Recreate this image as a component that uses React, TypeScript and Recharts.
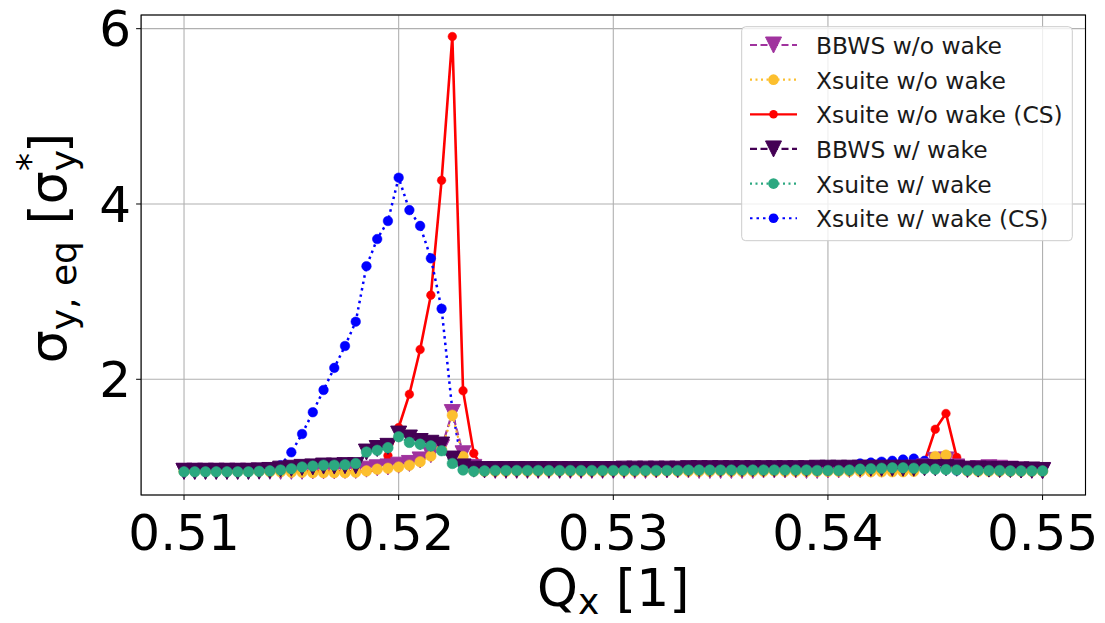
import React from "react";
import { LineChart, Line, XAxis, YAxis, CartesianGrid } from "recharts";

// ---- data ----
const qx = [
  0.51, 0.5105, 0.511, 0.5115, 0.512, 0.5125, 0.513, 0.5135, 0.514, 0.5145,
  0.515, 0.5155, 0.516, 0.5165, 0.517, 0.5175, 0.518, 0.5185, 0.519, 0.5195,
  0.52, 0.5205, 0.521, 0.5215, 0.522, 0.5225, 0.523, 0.5235, 0.524, 0.5245,
  0.525, 0.5255, 0.526, 0.5265, 0.527, 0.5275, 0.528, 0.5285, 0.529, 0.5295,
  0.53, 0.5305, 0.531, 0.5315, 0.532, 0.5325, 0.533, 0.5335, 0.534, 0.5345,
  0.535, 0.5355, 0.536, 0.5365, 0.537, 0.5375, 0.538, 0.5385, 0.539, 0.5395,
  0.54, 0.5405, 0.541, 0.5415, 0.542, 0.5425, 0.543, 0.5435, 0.544, 0.5445,
  0.545, 0.5455, 0.546, 0.5465, 0.547, 0.5475, 0.548, 0.5485, 0.549, 0.5495,
  0.55,
];

const bbwsNoWake = [
  0.95, 0.95, 0.95, 0.95, 0.95, 0.95, 0.95, 0.95, 0.95, 0.95,
  0.95, 0.95, 0.955, 0.955, 0.955, 0.96, 0.96, 0.975, 0.99, 1.0,
  1.02, 1.04, 1.08, 1.14, 1.22, 1.62, 1.15, 0.995, 0.965, 0.96,
  0.96, 0.96, 0.96, 0.96, 0.96, 0.96, 0.96, 0.96, 0.96, 0.96,
  0.96, 0.96, 0.96, 0.96, 0.965, 0.965, 0.965, 0.965, 0.96, 0.96,
  0.96, 0.96, 0.96, 0.96, 0.965, 0.965, 0.965, 0.965, 0.96, 0.96,
  0.965, 0.965, 0.97, 0.97, 0.975, 0.975, 0.98, 0.98, 0.985, 1.0,
  1.075, 1.08, 1.0, 0.97, 0.98, 0.99, 0.985, 0.975, 0.965, 0.96,
  0.955,
];

const xsNoWake = [
  0.95, 0.95, 0.95, 0.95, 0.95, 0.95, 0.95, 0.95, 0.945, 0.945,
  0.94, 0.94, 0.935, 0.935, 0.935, 0.935, 0.94, 0.955, 0.975, 0.985,
  1.0, 1.02, 1.06, 1.125, 1.2, 1.59, 1.12, 0.955, 0.95, 0.95,
  0.95, 0.955, 0.95, 0.95, 0.95, 0.955, 0.95, 0.95, 0.95, 0.95,
  0.955, 0.95, 0.95, 0.95, 0.95, 0.955, 0.95, 0.95, 0.95, 0.95,
  0.955, 0.95, 0.95, 0.95, 0.95, 0.955, 0.95, 0.95, 0.95, 0.95,
  0.95, 0.95, 0.95, 0.95, 0.945, 0.945, 0.945, 0.945, 0.95, 0.99,
  1.12, 1.135, 0.98, 0.955, 0.95, 0.95, 0.95, 0.95, 0.95, 0.95,
  0.95,
];

const xsNoWakeCS = [
  0.95, 0.95, 0.95, 0.95, 0.95, 0.95, 0.95, 0.95, 0.95, 0.95,
  0.95, 0.95, 0.95, 0.95, 0.95, 0.95, 0.95, 0.95, 0.97, 1.13,
  1.45, 1.83, 2.34, 2.96, 4.27, 5.91, 1.87, 1.155, 0.955, 0.955,
  0.955, 0.955, 0.955, 0.955, 0.955, 0.955, 0.955, 0.955, 0.955, 0.955,
  0.955, 0.955, 0.955, 0.955, 0.955, 0.955, 0.955, 0.955, 0.955, 0.955,
  0.955, 0.955, 0.955, 0.955, 0.955, 0.955, 0.955, 0.955, 0.955, 0.955,
  0.955, 0.955, 0.955, 0.955, 0.955, 0.955, 0.955, 0.955, 0.955, 1.06,
  1.43, 1.61, 1.11, 0.96, 0.96, 0.96, 0.96, 0.96, 0.96, 0.96,
  0.96,
];

const bbwsWake = [
  0.95, 0.95, 0.95, 0.95, 0.95, 0.95, 0.95, 0.955, 0.96, 0.975,
  0.985, 0.995, 1.0, 1.01, 1.01, 1.015, 1.015, 1.17, 1.21, 1.235,
  1.375, 1.33, 1.29, 1.27, 1.25, 1.09, 1.0, 0.975, 0.97, 0.97,
  0.97, 0.97, 0.97, 0.97, 0.97, 0.97, 0.97, 0.97, 0.97, 0.97,
  0.97, 0.975, 0.975, 0.975, 0.975, 0.975, 0.975, 0.98, 0.98, 0.98,
  0.98, 0.98, 0.98, 0.98, 0.98, 0.98, 0.98, 0.98, 0.98, 0.985,
  0.985, 0.985, 0.985, 0.985, 0.985, 0.985, 0.985, 0.985, 0.985, 0.99,
  0.99, 0.99, 0.985, 0.975, 0.975, 0.975, 0.97, 0.97, 0.965, 0.965,
  0.96,
];

const xsWake = [
  0.945, 0.945, 0.945, 0.945, 0.945, 0.945, 0.945, 0.95, 0.955, 0.965,
  0.98, 1.0, 1.01, 1.02, 1.02, 1.025, 1.04, 1.17, 1.19, 1.22,
  1.345, 1.28, 1.26, 1.24, 1.185, 1.04, 0.965, 0.95, 0.955, 0.96,
  0.96, 0.96, 0.96, 0.96, 0.96, 0.96, 0.96, 0.96, 0.96, 0.96,
  0.96, 0.96, 0.96, 0.96, 0.96, 0.96, 0.96, 0.965, 0.965, 0.965,
  0.965, 0.965, 0.965, 0.965, 0.965, 0.965, 0.965, 0.965, 0.965, 0.96,
  0.96, 0.96, 0.965, 0.975, 0.98, 0.985, 0.99, 0.99, 0.985, 0.98,
  0.975, 0.97, 0.965, 0.96, 0.96, 0.96, 0.96, 0.955, 0.955, 0.955,
  0.955,
];

const xsWakeCS = [
  0.95, 0.95, 0.95, 0.95, 0.95, 0.95, 0.95, 0.95, 0.95, 1.02,
  1.167, 1.376, 1.624, 1.878, 2.13, 2.38, 2.657, 3.29, 3.6, 3.806,
  4.3, 3.93, 3.75, 3.38, 2.805, 1.65, 0.97, 0.96, 0.96, 0.96,
  0.96, 0.96, 0.96, 0.96, 0.96, 0.96, 0.96, 0.96, 0.96, 0.96,
  0.96, 0.96, 0.96, 0.96, 0.96, 0.96, 0.96, 0.96, 0.96, 0.96,
  0.96, 0.96, 0.96, 0.96, 0.96, 0.96, 0.96, 0.96, 0.96, 0.96,
  0.96, 0.96, 0.99, 1.04, 1.05, 1.06, 1.07, 1.085, 1.095, 1.07,
  1.05, 0.98, 0.96, 0.96, 0.96, 0.96, 0.96, 0.96, 0.96, 0.96,
  0.96,
];

const xTicks = [0.51, 0.52, 0.53, 0.54, 0.55];
const yTicks = [2, 4, 6];
const xDomain = [0.508, 0.552];
const yDomain = [0.68, 6.156];

// ---- styling / layout ----
const W = 1105;
const H = 623;
const PL = 141.1;
const PT = 15;
const PR = 1085.5;
const PB = 495;
const XAXIS_H = 60;
const FONT = "DejaVu Sans";

const C = {
  bbwsNoWake: "#a0339e",
  xsNoWake: "#fcbf2e",
  xsNoWakeCS: "#ff0000",
  bbwsWake: "#440154",
  xsWake: "#2ba880",
  xsWakeCS: "#0000ff",
};

const data = qx.map((q, i) => ({
  qx: q,
  bbwsNoWake: bbwsNoWake[i],
  xsNoWake: xsNoWake[i],
  xsNoWakeCS: xsNoWakeCS[i],
  bbwsWake: bbwsWake[i],
  xsWake: xsWake[i],
  xsWakeCS: xsWakeCS[i],
}));

const triDot = (color: string) => (props: any) => {
  const { cx, cy, index } = props;
  if (cx == null || cy == null) return <g key={`t${color}${index}`} />;
  const s = 8;
  return (
    <path
      key={`t${color}${index}`}
      d={`M${cx - s},${cy - s}L${cx + s},${cy - s}L${cx},${cy + s}Z`}
      fill={color}
      stroke={color}
      strokeWidth={1}
      strokeLinejoin="miter"
    />
  );
};

const circDot = (color: string, r: number) => (props: any) => {
  const { cx, cy, index } = props;
  if (cx == null || cy == null) return <g key={`c${color}${index}`} />;
  return <circle key={`c${color}${index}`} cx={cx} cy={cy} r={r} fill={color} stroke={color} strokeWidth={0.5} />;
};

const legendItems = [
  { label: "BBWS w/o wake", color: C.bbwsNoWake, dash: "7 3.5", marker: "tri", r: 0 },
  { label: "Xsuite w/o wake", color: C.xsNoWake, dash: "2 3.5", marker: "circ", r: 5.3 },
  { label: "Xsuite w/o wake (CS)", color: C.xsNoWakeCS, dash: "", marker: "circ", r: 4.3 },
  { label: "BBWS w/ wake", color: C.bbwsWake, dash: "7 3.5", marker: "tri", r: 0 },
  { label: "Xsuite w/ wake", color: C.xsWake, dash: "2 3.5", marker: "circ", r: 5.3 },
  { label: "Xsuite w/ wake (CS)", color: C.xsWakeCS, dash: "2.5 4", marker: "circ", r: 4.8 },
];

function Overlay() {
  const lx = 741.7;
  const ly = 26.7;
  const lw = 330.6;
  const lh = 214;
  return (
    <svg width={W} height={H} style={{ position: "absolute", left: 0, top: 0, pointerEvents: "none" }}>
      {/* axes frame */}
      <rect x={PL} y={PT} width={PR - PL} height={PB - PT} fill="none" stroke="#000" strokeWidth={1.1} />
      {/* y label */}
      <text
        transform={`translate(66,248) rotate(-90)`}
        textAnchor="middle"
        fontFamily={FONT}
        fontSize={52}
        fill="#000"
      >
        σ<tspan fontSize={36} dy={10}>y, eq</tspan>
        <tspan dy={-10}> [σ</tspan>
        <tspan fontSize={36} dy={10}>y</tspan>
        <tspan fontSize={36} dx={-21} dy={-34}>*</tspan>
        <tspan dy={24}>]</tspan>
      </text>
      {/* x label */}
      <text x={(PL + PR) / 2} y={606} textAnchor="middle" fontFamily={FONT} fontSize={52} fill="#000">
        Q<tspan fontSize={36} dy={8}>x</tspan>
        <tspan dy={-8}> [1]</tspan>
      </text>
      {/* legend */}
      <rect x={lx} y={ly} width={lw} height={lh} rx={4} ry={4} fill="rgba(255,255,255,0.8)" stroke="#cccccc" strokeWidth={1} />
      {legendItems.map((it, i) => {
        const cy = 45 + i * 34.65;
        const x0 = 750;
        const x1 = 797;
        const mx = 773.5;
        return (
          <g key={it.label}>
            <line x1={x0} y1={cy} x2={x1} y2={cy} stroke={it.color} strokeWidth={2.2} strokeDasharray={it.dash || undefined} />
            {it.marker === "tri" ? (
              <path d={`M${mx - 8},${cy - 8}L${mx + 8},${cy - 8}L${mx},${cy + 8}Z`} fill={it.color} stroke={it.color} strokeWidth={1} />
            ) : (
              <circle cx={mx} cy={cy} r={it.r} fill={it.color} />
            )}
            <text x={816} y={cy + 1} dominantBaseline="central" fontFamily={FONT} fontSize={23.4} fill="#1a1a1a">
              {it.label}
            </text>
          </g>
        );
      })}
    </svg>
  );
}

export default function App() {
  return (
    <div style={{ position: "relative", width: W, height: H, background: "#fff" }}>
      <style>{"body{margin:0;}"}</style>
      <LineChart
        width={W}
        height={H}
        data={data}
        margin={{ top: PT, right: W - PR, left: 0, bottom: H - PB - XAXIS_H }}
      >
        <CartesianGrid stroke="#b0b0b0" strokeWidth={1.1} />
        <XAxis
          dataKey="qx"
          type="number"
          domain={xDomain}
          ticks={xTicks}
          interval={0}
          allowDataOverflow
          height={XAXIS_H}
          tickFormatter={(v: number) => v.toFixed(2)}
          tick={{ fontSize: 50, fill: "#000", fontFamily: FONT }}
          tickSize={5}
          tickMargin={14}
          stroke="#000"
          axisLine={false}
        />
        <YAxis
          type="number"
          domain={yDomain}
          ticks={yTicks}
          interval={0}
          allowDataOverflow
          width={PL}
          tick={{ fontSize: 50, fill: "#000", fontFamily: FONT }}
          tickSize={5}
          tickMargin={5}
          stroke="#000"
          axisLine={false}
        />
        <Line dataKey="xsNoWakeCS" type="linear" stroke={C.xsNoWakeCS} strokeWidth={2.6} dot={circDot(C.xsNoWakeCS, 4.3)} activeDot={false} isAnimationActive={false} />
        <Line dataKey="xsWakeCS" type="linear" stroke={C.xsWakeCS} strokeWidth={2.5} strokeDasharray="2.5 4" dot={circDot(C.xsWakeCS, 4.8)} activeDot={false} isAnimationActive={false} />
        <Line dataKey="bbwsNoWake" type="linear" stroke={C.bbwsNoWake} strokeWidth={2.2} strokeDasharray="7 3.5" dot={triDot(C.bbwsNoWake)} activeDot={false} isAnimationActive={false} />
        <Line dataKey="xsNoWake" type="linear" stroke={C.xsNoWake} strokeWidth={2.2} strokeDasharray="2 3.5" dot={circDot(C.xsNoWake, 5.3)} activeDot={false} isAnimationActive={false} />
        <Line dataKey="bbwsWake" type="linear" stroke={C.bbwsWake} strokeWidth={2.2} strokeDasharray="7 3.5" dot={triDot(C.bbwsWake)} activeDot={false} isAnimationActive={false} />
        <Line dataKey="xsWake" type="linear" stroke={C.xsWake} strokeWidth={2.2} strokeDasharray="2 3.5" dot={circDot(C.xsWake, 5.3)} activeDot={false} isAnimationActive={false} />
      </LineChart>
      <Overlay />
    </div>
  );
}
